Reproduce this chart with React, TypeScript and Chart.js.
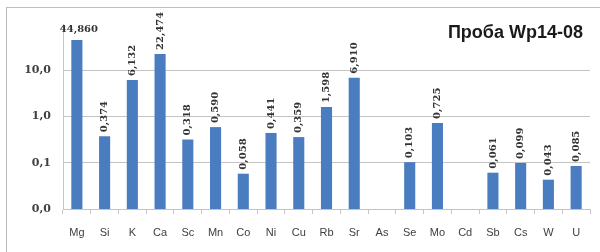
import React, { useEffect, useRef } from "react";
import { Chart, registerables } from "chart.js";

Chart.register(...registerables);

const categories = ["Mg", "Si", "K", "Ca", "Sc", "Mn", "Co", "Ni", "Cu", "Rb", "Sr", "As", "Se", "Mo", "Cd", "Sb", "Cs", "W", "U"];
const values: (number | null)[] = [44.86, 0.374, 6.132, 22.474, 0.318, 0.59, 0.058, 0.441, 0.359, 1.598, 6.91, null, 0.103, 0.725, null, 0.061, 0.099, 0.043, 0.085];
const yTicks = [0.01, 0.1, 1, 10, 100];
const yTickLabels = ["0,0", "0,1", "1,0", "10,0", ""];
const horizontalLabels = ["Mg"];
const title = "Проба Wp14-08";

const BAR = "#4A7DC0";
const GRID = "#C4C4C4";
const LABEL_FONT = "bold 10px 'DejaVu Serif'";

const fmt = (v: number) => v.toFixed(3).replace(".", ",");

const valueLabels = {
  id: "valueLabels",
  afterDatasetsDraw(chart: any) {
    const ctx = chart.ctx;
    const meta = chart.getDatasetMeta(0);
    ctx.save();
    ctx.font = LABEL_FONT;
    ctx.fillStyle = "#333333";
    meta.data.forEach((el: any, i: number) => {
      const v = values[i];
      if (v == null) return;
      const txt = fmt(v);
      if (horizontalLabels.includes(categories[i])) {
        ctx.textAlign = "center";
        ctx.textBaseline = "alphabetic";
        ctx.fillText(txt, el.x + 2, el.y - 8);
      } else {
        ctx.save();
        ctx.translate(el.x, el.y - 4);
        ctx.rotate(-Math.PI / 2);
        ctx.textAlign = "left";
        ctx.textBaseline = "middle";
        ctx.fillText(txt, 0, 0);
        ctx.restore();
      }
    });
    ctx.font = "bold 18px 'Liberation Sans'";
    ctx.fillStyle = "#1a1a1a";
    ctx.textAlign = "right";
    ctx.textBaseline = "alphabetic";
    ctx.fillText(title, 583, 38);
    ctx.restore();
  },
};

export default function App() {
  const ref = useRef<HTMLCanvasElement>(null);
  useEffect(() => {
    if (!ref.current) return;
    const chart = new Chart(ref.current, {
      type: "bar",
      data: {
        labels: categories,
        datasets: [
          {
            data: values,
            backgroundColor: BAR,
            borderWidth: 0,
            categoryPercentage: 1,
            barPercentage: 0.4,
          },
        ],
      },
      options: {
        responsive: false,
        animation: false,
        layout: { padding: { left: 0, top: 24, right: 10, bottom: 0 } },
        plugins: { legend: { display: false }, tooltip: { enabled: false }, title: { display: false } },
        scales: {
          x: {
            grid: { offset: true, drawOnChartArea: false, tickLength: 5, color: GRID },
            border: { color: GRID },
            ticks: { font: { family: "Liberation Sans", size: 11 }, color: "#404040", padding: 12, maxRotation: 0 },
            afterFit: (s: any) => {
              s.height = 43;
            },
          },
          y: {
            type: "logarithmic",
            min: 0.01,
            max: 100,
            afterBuildTicks: (s: any) => {
              s.ticks = yTicks.map((v) => ({ value: v }));
            },
            afterFit: (s: any) => {
              s.width = 63;
            },
            grid: {
              color: (c: any) => (c.tick && c.tick.value === 100 ? "rgba(0,0,0,0)" : GRID),
              drawTicks: false,
            },
            border: { color: GRID },
            ticks: {
              font: { family: "DejaVu Serif", size: 11, weight: "bold" },
              color: "#404040",
              padding: 12,
              callback: (v: any) => {
                const i = yTicks.indexOf(Number(v));
                return i >= 0 ? yTickLabels[i] : "";
              },
            },
          },
        },
      },
      plugins: [valueLabels],
    });
    return () => chart.destroy();
  }, []);
  return (
    <div style={{ position: "fixed", left: 0, top: 0, width: 600, height: 252, background: "#fff", overflow: "hidden" }}>
      <div style={{ position: "absolute", left: 6, top: 7, width: 640, height: 300, border: "1px solid #BDBDBD" }} />
      <canvas ref={ref} width={600} height={252} style={{ position: "absolute", left: 0, top: 0 }} />
    </div>
  );
}
